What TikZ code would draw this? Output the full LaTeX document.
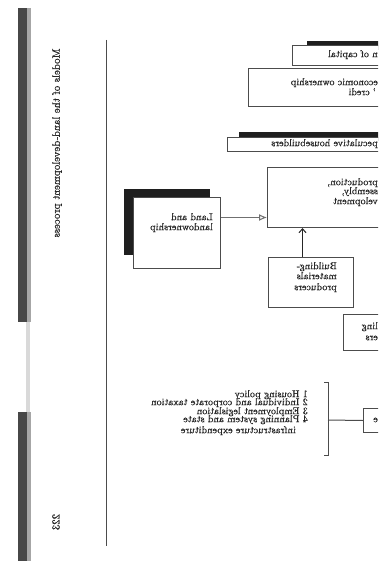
\documentclass[tikz,border=0pt]{standalone}
\usepackage{fontspec}
\usetikzlibrary{arrows.meta}
\newfontfamily\scanfont{lmroman10-regular.otf}[FakeBold=0.7]
\newcommand\mirtxt[1]{\reflectbox{#1}}
\definecolor{ink}{gray}{0.15}
\definecolor{edge}{gray}{0.3}
\definecolor{shade}{gray}{0.12}
\begin{document}
\begin{tikzpicture}[x=1pt,y=-1pt,
  box/.style={draw=edge, line width=1pt, fill=white, inner sep=0pt, anchor=north west},
  lbl/.style={anchor=mid east, inner sep=0pt, text=ink, font=\scanfont\fontsize{10}{12}\selectfont},
  sidetxt/.style={anchor=center, inner sep=0pt, text=ink, font=\scanfont\fontsize{10.8}{12}\selectfont},
  shadowfill/.style={fill=shade}]
\useasboundingbox (0,0) rectangle (378,561);
\clip (0,0) rectangle (378,561);
\fill[white] (0,0) rectangle (378,561);
% binding shadow
\fill[black!72] (18,8) rectangle (27,322);
\fill[black!35] (27,8) rectangle (31,322);
\fill[black!72] (18,412) rectangle (27,561);
\fill[black!35] (27,412) rectangle (31,561);
\fill[black!15] (26,322) rectangle (30,412);
% running head and rule
\node[sidetxt] (hdr) at (57,143) {\mirtxt{\rotatebox{-90}{Models of the land-development process}}};
\node[sidetxt] (pnum) at (56,522) {\mirtxt{\rotatebox{-90}{223}}};
\draw[edge, line width=0.8pt] (106,40) -- (106,546);
% top boxes
\fill[shadowfill] (307,41) rectangle (390,50);
\node[box, minimum width=100pt, minimum height=20pt] (cap) at (292,45) {};
\node[lbl] (capT) at (378,55) {\mirtxt{n of capital}};
\node[box, minimum width=140pt, minimum height=38pt] (own) at (248,68) {};
\node[lbl] (ownT1) at (378,83) {\mirtxt{economic ownership}};
\node[lbl] (ownT2) at (376,93) {\mirtxt{’ credi}};
\fill[shadowfill] (239,132) rectangle (390,141);
\node[box, minimum width=160pt, minimum height=14pt] (spec) at (227,137) {};
\node[lbl] (specT) at (378,144) {\mirtxt{peculative housebuilders}};
% production box
\node[box, minimum width=120pt, minimum height=60pt] (prod) at (267,167) {};
\node[lbl] (prodT1) at (378,183) {\mirtxt{production,}};
\node[lbl] (prodT2) at (378,192) {\mirtxt{ssembly,}};
\node[lbl] (prodT3) at (378,202) {\mirtxt{velopment}};
% land box
\fill[shadowfill] (124,189) rectangle (210,255);
\node[box, minimum width=87pt, minimum height=71pt] (land) at (133,197) {};
\node[lbl] (landT1) at (213,218) {\mirtxt{Land and}};
\node[lbl] (landT2) at (213,228) {\mirtxt{landownership}};
% building materials
\node[box, minimum width=85pt, minimum height=50pt] (mat) at (268,257) {};
\node[lbl] (matT1) at (337,267) {\mirtxt{Building-}};
\node[lbl] (matT2) at (337,277) {\mirtxt{materials}};
\node[lbl] (matT3) at (337,288) {\mirtxt{producers}};
% building workers
\node[box, minimum width=45pt, minimum height=36pt] (work) at (343,314) {};
\node[lbl] (workT1) at (378,327) {\mirtxt{ling}};
\node[lbl] (workT2) at (378,338) {\mirtxt{ers}};
% state box
\node[box, minimum width=25pt, minimum height=24pt] (state) at (363,408) {};
\node[lbl] (stateT) at (378,420) {\mirtxt{e}};
% list
\node[lbl] (l1) at (308,395) {\mirtxt{1 Housing policy}};
\node[lbl] (l2) at (308,403) {\mirtxt{2 Individual and corporate taxation}};
\node[lbl] (l3) at (308,412) {\mirtxt{3 Employment legislation}};
\node[lbl] (l4) at (308,420) {\mirtxt{4 Planning system and state}};
\node[lbl] (l5) at (296,431) {\mirtxt{infrastructure expenditure}};
% bracket
\coordinate (bt) at (324,382);
\coordinate (bb) at (324,455);
\coordinate (bm) at (328,420);
\draw[edge, line width=1pt] (bt) -- ++(4,0) -- ++(0,73) -- (bb);
\draw[edge, line width=1pt] (bm) -- (state.west);
% connectors
\draw[edge!80, line width=1pt, -{Latex[open,length=8pt,width=7pt]}]
  ([yshift=15.5pt]land.east) -- ([yshift=15.5pt]land.east -| prod.west);
\draw[black!85, line width=1pt, -{Straight Barb[length=4pt,width=7pt]}]
  ([xshift=-8.5pt]mat.north) -- ([xshift=-8.5pt]mat.north |- prod.south);
\end{tikzpicture}
\end{document}
